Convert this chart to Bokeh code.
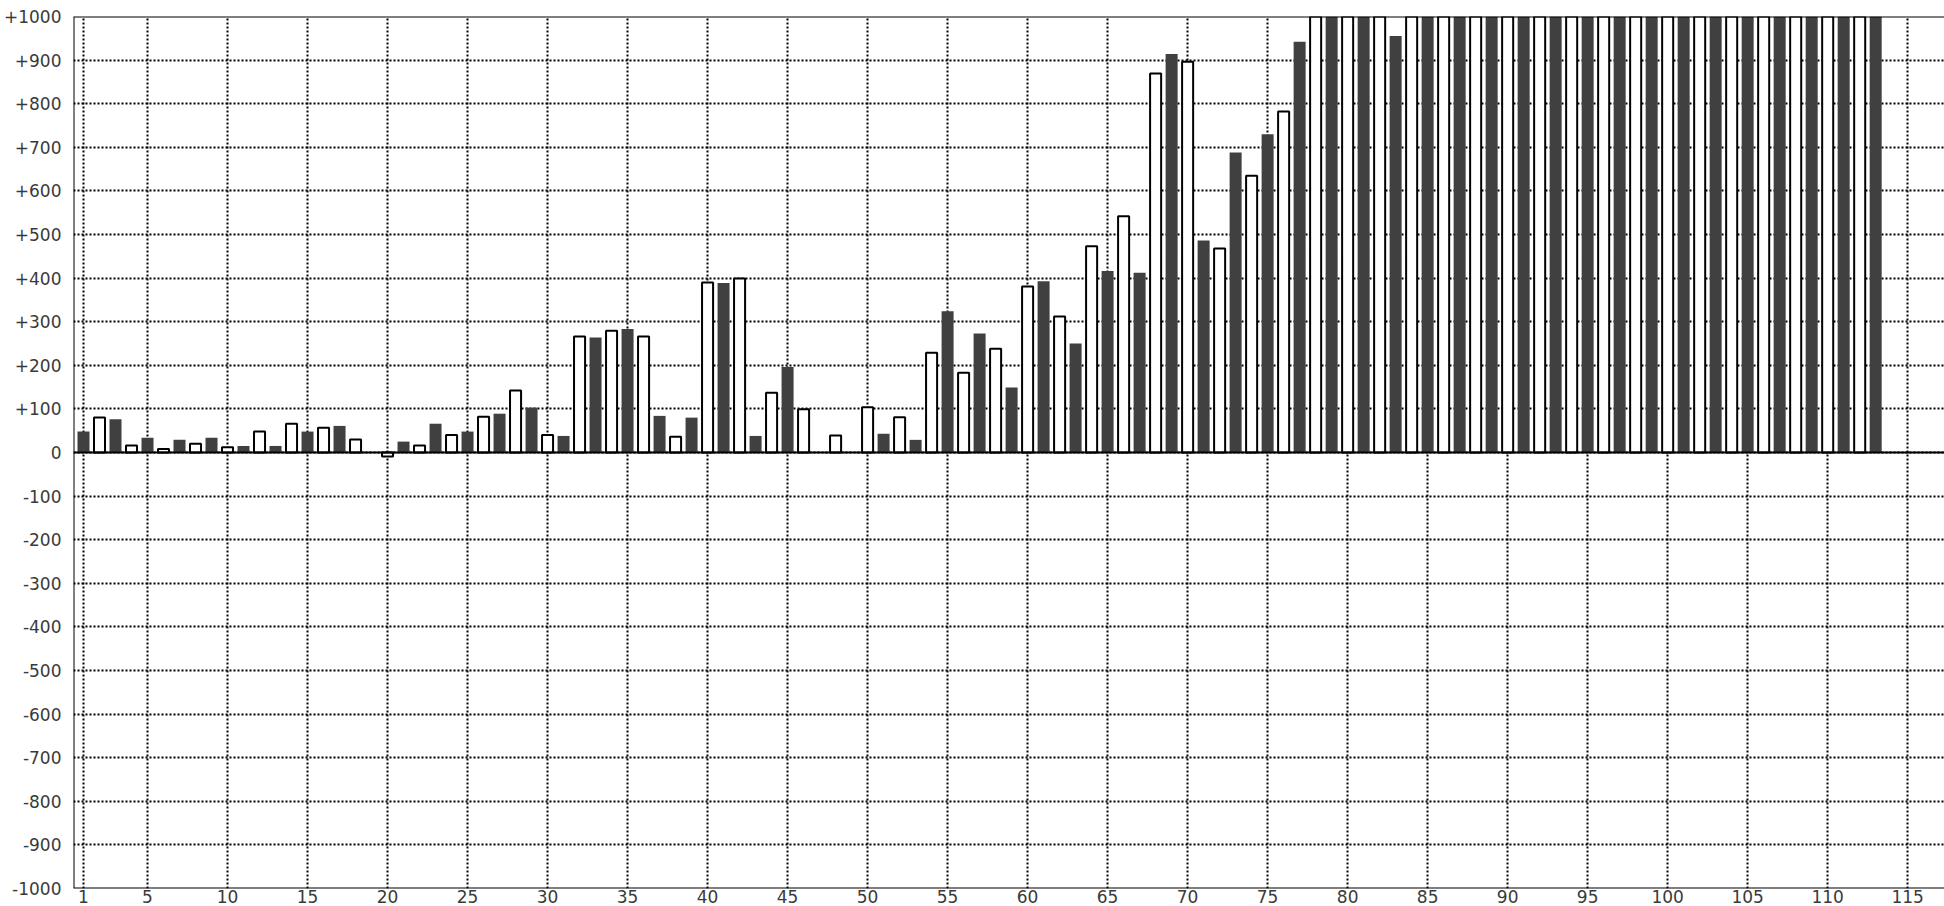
from bokeh.plotting import figure
from bokeh.models import Range1d, Span, FixedTicker
from bokeh.embed import file_html
from bokeh.resources import INLINE

# dark bars at odd positions 1..113
dark_x = [1, 3, 5, 7, 9, 11, 13, 15, 17, 19, 21, 23, 25, 27, 29, 31, 33, 35, 37, 39,
          41, 43, 45, 47, 49, 51, 53, 55, 57, 59, 61, 63, 65, 67, 69, 71, 73, 75, 77, 79,
          81, 83, 85, 87, 89, 91, 93, 95, 97, 99, 101, 103, 105, 107, 109, 111, 113]
dark_values = [48, 76, 34, 29, 34, 15, 15, 48, 61, 0, 25, 66, 48, 89, 103, 38, 264, 283, 84, 80,
               389, 38, 196, 0, 0, 43, 29, 324, 273, 149, 393, 250, 416, 412, 914, 486, 688, 730, 942, 1000,
               1000, 955, 1000, 1000, 1000, 1000, 1000, 1000, 1000, 1000, 1000, 1000, 1000, 1000, 1000, 1000, 1000]

# white bars at even positions 2..112
white_x = [2, 4, 6, 8, 10, 12, 14, 16, 18, 20, 22, 24, 26, 28, 30, 32, 34, 36, 38, 40,
           42, 44, 46, 48, 50, 52, 54, 56, 58, 60, 62, 64, 66, 68, 70, 72, 74, 76, 78, 80,
           82, 84, 86, 88, 90, 92, 94, 96, 98, 100, 102, 104, 106, 108, 110, 112]
white_values = [80, 16, 8, 20, 12, 48, 66, 57, 30, -9, 16, 40, 82, 142, 40, 266, 279, 266, 36, 390,
                399, 137, 99, 39, 104, 81, 229, 183, 238, 381, 312, 473, 542, 869, 896, 468, 635, 782, 1000, 1000,
                1000, 1000, 1000, 1000, 1000, 1000, 1000, 1000, 1000, 1000, 1000, 1000, 1000, 1000, 1000, 1000]

x_ticks = [1, 5, 10, 15, 20, 25, 30, 35, 40, 45, 50, 55, 60, 65, 70, 75, 80, 85, 90, 95, 100, 105, 110, 115]
y_ticks = [-1000, -900, -800, -700, -600, -500, -400, -300, -200, -100, 0,
           100, 200, 300, 400, 500, 600, 700, 800, 900, 1000]
y_labels = ["-1000", "-900", "-800", "-700", "-600", "-500", "-400", "-300", "-200", "-100", "0",
            "+100", "+200", "+300", "+400", "+500", "+600", "+700", "+800", "+900", "+1000"]

FONT = "DejaVu Sans"
LABEL_COLOR = "#3a3a3a"

p = figure(width=1944, height=905, output_backend="svg", toolbar_location=None,
           x_range=Range1d(0.375, 117.3), y_range=Range1d(-1000, 1000),
           min_border_left=0, min_border_right=0, min_border_top=16, min_border_bottom=0,
           background_fill_color="white", border_fill_color="white")
p.outline_line_color = None

for ax in (p.xaxis[0], p.yaxis[0]):
    ax.axis_line_color = None
    ax.major_tick_line_color = None
    ax.minor_tick_line_color = None
    ax.major_tick_in = 0
    ax.major_tick_out = 0
    ax.minor_tick_in = 0
    ax.minor_tick_out = 0
    ax.major_label_text_font = FONT
    ax.major_label_text_font_size = "17px"
    ax.major_label_text_color = LABEL_COLOR

p.xaxis.ticker = FixedTicker(ticks=x_ticks)
p.xaxis.major_label_standoff = 1
p.yaxis.ticker = FixedTicker(ticks=y_ticks)
p.yaxis.major_label_overrides = {t: l for t, l in zip(y_ticks, y_labels)}
p.yaxis.major_label_standoff = 12

for g in (p.xgrid[0], p.ygrid[0]):
    g.grid_line_color = "black"
    g.grid_line_width = 2
    g.grid_line_dash = "2 2"
p.xgrid.ticker = FixedTicker(ticks=x_ticks)
p.ygrid.ticker = FixedTicker(ticks=y_ticks)

p.vbar(x=dark_x, top=dark_values, bottom=0, width=0.75,
       fill_color="#404040", line_color=None)
p.vbar(x=white_x, top=white_values, bottom=0, width=0.69,
       fill_color="white", line_color="black", line_width=2)

# frame borders (top, bottom, left) and zero line
for loc in (p.y_range.start, p.y_range.end, 0):
    p.add_layout(Span(location=loc, dimension="width", line_color="black", line_width=2))
p.add_layout(Span(location=p.x_range.start, dimension="height", line_color="black", line_width=2))

open("out.html", "w").write(file_html(p, INLINE))
